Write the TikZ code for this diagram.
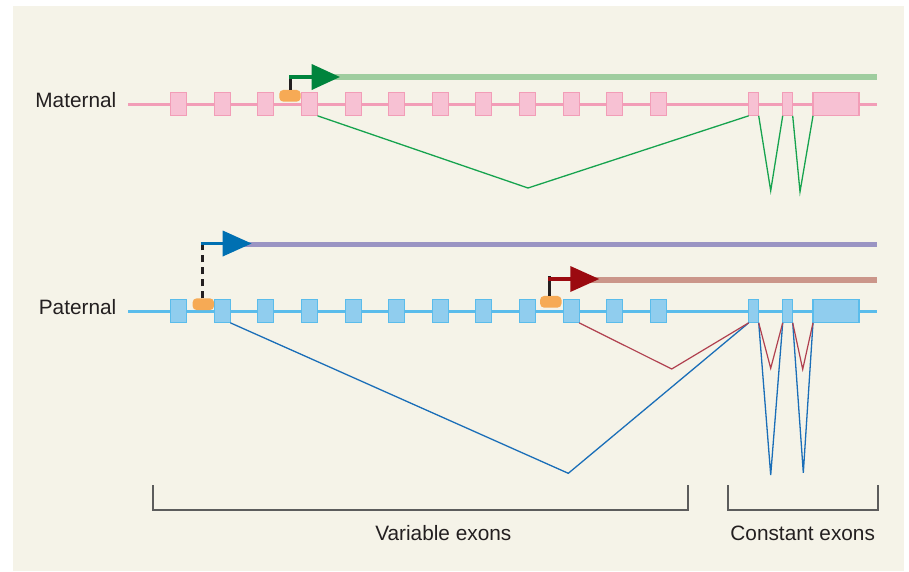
\documentclass[tikz,border=0pt]{standalone}
\usepackage{fontspec}
\setmainfont{Liberation Sans}
\usetikzlibrary{arrows.meta}
\definecolor{bgc}{HTML}{F5F3E8}
\definecolor{pinkline}{HTML}{F29DB7}
\definecolor{pinkfill}{HTML}{F7C1D3}
\definecolor{blueline}{HTML}{5ABCEB}
\definecolor{bluefill}{HTML}{90CDEE}
\definecolor{lgreen}{HTML}{9FCD9F}
\definecolor{dgreen}{HTML}{00843D}
\definecolor{purplebar}{HTML}{9A94C3}
\definecolor{darrowblue}{HTML}{0070B2}
\definecolor{salmonbar}{HTML}{CB968A}
\definecolor{darkred}{HTML}{9B0A10}
\definecolor{promo}{HTML}{F6AA55}
\definecolor{spgreen}{HTML}{16A34E}
\definecolor{spblue}{HTML}{1A6EB8}
\definecolor{spred}{HTML}{B0404F}
\definecolor{brk}{HTML}{5C5C5C}
\definecolor{txt}{HTML}{231F20}
\begin{document}
\begin{tikzpicture}[x=1pt,y=-1pt,
  mline/.style={pinkline, line width=2.5pt},
  pline/.style={blueline, line width=2.5pt},
  mexon/.style={draw=pinkline, fill=pinkfill, line width=1.1pt, minimum height=23pt, inner sep=0pt, outer sep=0pt},
  pexon/.style={draw=blueline, fill=bluefill, line width=1.1pt, minimum height=23pt, inner sep=0pt, outer sep=0pt},
  varexon/.style={minimum width=16pt},
  prom/.style={fill=promo, rounded corners=4pt, minimum width=21.4pt, minimum height=11.7pt, inner sep=0pt, outer sep=0pt},
  ticks/.style={txt, line width=3pt},
  bar/.style={line width=6pt},
  tsarrow/.style={line width=3.6pt, -{Triangle[length=29pt,width=25pt]}},
  splice/.style={line width=1.3pt, line join=miter},
  bracket/.style={brk, line width=2.2pt},
  lab/.style={txt, font=\fontsize{20.8}{24}\selectfont, inner sep=0pt}
]
\useasboundingbox (0,0) rectangle (909,571);
\fill[bgc] (12.7,6) rectangle (904.3,571);

% ---------------- Maternal ----------------
\coordinate (mL) at (128,104.3);
\coordinate (mR) at (876.7,104.3);
\draw[mline] (mL) -- (mR);
\foreach \i in {1,...,12}
  \node[mexon,varexon] (m\i) at ({178.7+43.6*(\i-1)},104.3) {};
\node[mexon,minimum width=10pt] (mc1) at (753.7,104.3) {};
\node[mexon,minimum width=10pt] (mc2) at (787.7,104.3) {};
\node[mexon,minimum width=46pt] (mc3) at (836,104.3) {};
\node[prom] (mprom) at (290,95.8) {};
\node[lab, anchor=base east] (mlab) at (116.5,107.7) {Maternal};

\coordinate (mbarS) at (315,77);
\coordinate (mbarE) at (876.7,77);
\draw[bar, lgreen] (mbarS) -- (mbarE);
\coordinate (mA) at (290.7,77);
\coordinate (mTip) at (340,77);
\draw[ticks] (mprom.north -| mA) -- ([yshift=1pt]mA);
\draw[tsarrow, dgreen, -{Triangle[length=28.3pt,width=25pt]}] ([xshift=-1.5pt]mA) -- (mTip);

\coordinate (gv0) at (528,188);
\coordinate (gv1) at (770.7,190.7);
\coordinate (gv2) at (800,191.7);
\draw[splice, spgreen] (m4.south east) -- (gv0) -- (mc1.south west);
\draw[splice, spgreen] (mc1.south east) -- (gv1) -- (mc2.south west);
\draw[splice, spgreen] (mc2.south east) -- (gv2) -- (mc3.south west);

% ---------------- Paternal ----------------
\coordinate (pL) at (128,311.3);
\coordinate (pR) at (876.7,311.3);
\draw[pline] (pL) -- (pR);
\foreach \i in {1,...,12}
  \node[pexon,varexon] (p\i) at ({178.7+43.6*(\i-1)},311.3) {};
\node[pexon,minimum width=10pt] (pc1) at (753.7,311.3) {};
\node[pexon,minimum width=10pt] (pc2) at (787.7,311.3) {};
\node[pexon,minimum width=46pt] (pc3) at (836,311.3) {};
\node[prom] (pprom1) at (203.3,304.2) {};
\node[prom] (pprom2) at (550.8,301.8) {};
\node[lab, anchor=base east] (plab) at (116.5,314.8) {Paternal};

% purple transcript
\coordinate (pbarS) at (225,244.5);
\coordinate (pbarE) at (876.7,244.5);
\draw[line width=5.5pt, purplebar] (pbarS) -- (pbarE);
\coordinate (pA) at (202,243.5);
\coordinate (pTip) at (251.7,243.5);
\draw[ticks, dash pattern=on 7pt off 5pt] (pprom1.north -| pA) -- ([yshift=3pt]pA);
\draw[tsarrow, darrowblue] ([xshift=-1.5pt]pA) -- (pTip);

% salmon transcript
\coordinate (rbarS) at (572,280);
\coordinate (rbarE) at (876.7,280);
\draw[line width=5.7pt, salmonbar] (rbarS) -- (rbarE);
\coordinate (rA) at (549.3,279);
\coordinate (rTip) at (599.3,279);
\draw[ticks] (pprom2.north -| rA) -- ([yshift=3pt]rA);
\draw[tsarrow, darkred] ([xshift=-1pt]rA) -- (rTip);

% splicing, blue
\coordinate (bv0) at (568.3,473.3);
\coordinate (bv1) at (770.7,475);
\coordinate (bv2) at (803.3,472.7);
\draw[splice, spblue] (p2.south east) -- (bv0) -- (pc1.south west);
\draw[splice, spblue] (pc1.south east) -- (bv1) -- (pc2.south west);
\draw[splice, spblue] (pc2.south east) -- (bv2) -- (pc3.south west);
% splicing, red
\coordinate (rv0) at (671.7,369);
\coordinate (rv1) at (770.7,368.3);
\coordinate (rv2) at (802.7,369.3);
\draw[splice, spred, line width=1.2pt] (p10.south east) -- (rv0) -- (pc1.south west);
\draw[splice, spred, line width=1.2pt] (pc1.south east) -- (rv1) -- (pc2.south west);
\draw[splice, spred, line width=1.2pt] (pc2.south east) -- (rv2) -- (pc3.south west);

% ---------------- Brackets ----------------
\coordinate (vb1) at (153.3,485);
\coordinate (vb2) at (687.6,485);
\coordinate (cb1) at (728,485);
\coordinate (cb2) at (878,485);
\draw[bracket] (vb1) -- ++(0,25) -| (vb2);
\draw[bracket] (cb1) -- ++(0,25) -| (cb2);
\node[lab, anchor=base] (vlab) at (443.3,540) {Variable exons};
\node[lab, anchor=base] (clab) at (802.7,540) {Constant exons};
\end{tikzpicture}
\end{document}
